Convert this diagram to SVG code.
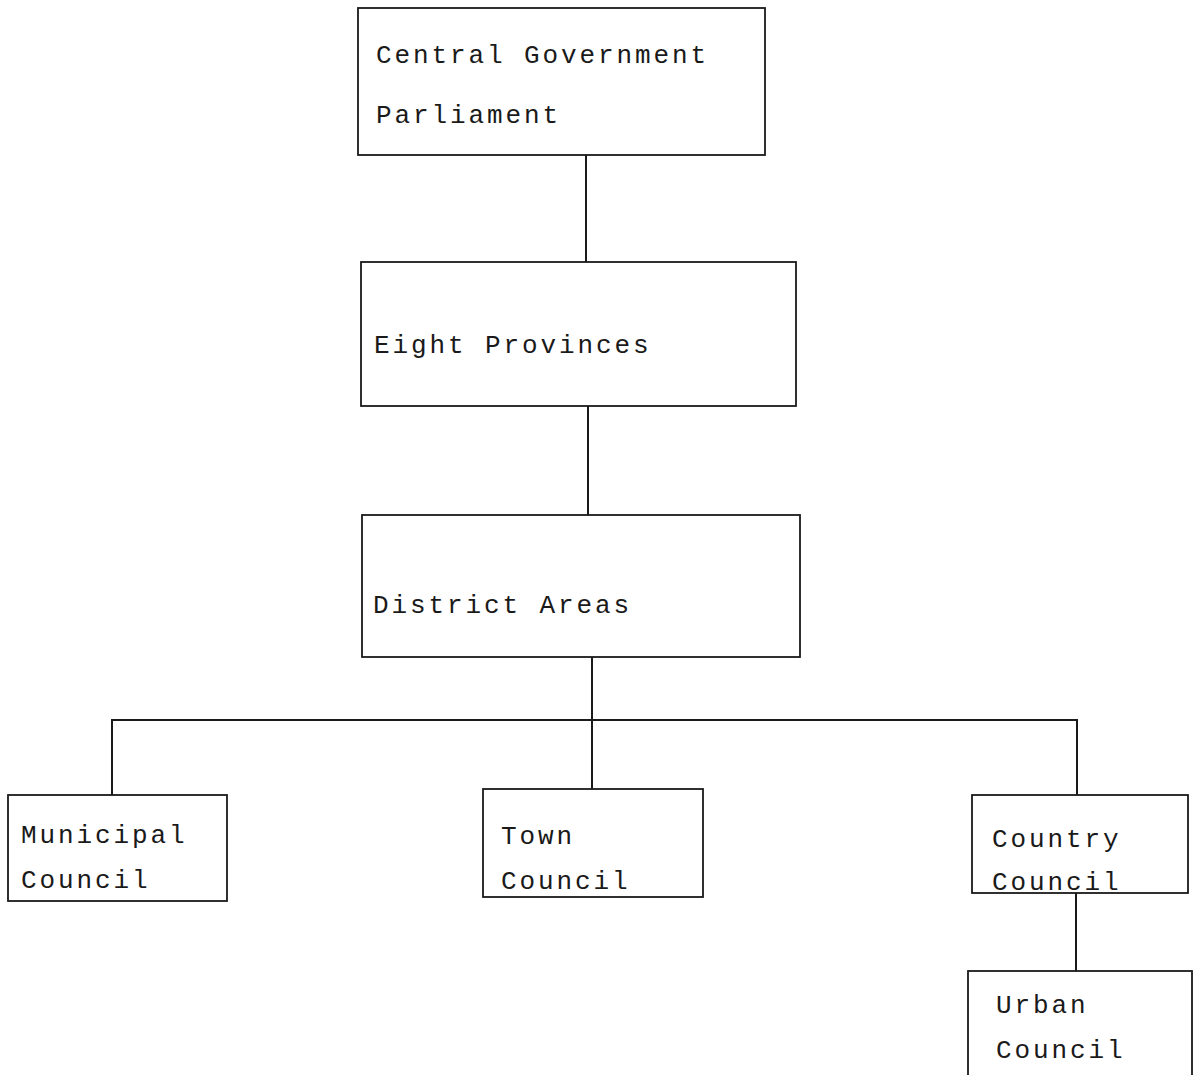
<svg xmlns="http://www.w3.org/2000/svg" width="1196" height="1075" viewBox="0 0 1196 1075">
<style>
.box{fill:none;stroke:#1a1a1a;stroke-width:1.8}
.ln{fill:none;stroke:#1a1a1a;stroke-width:2}
.t{font-family:"Liberation Mono","Courier New",monospace;font-size:26px;letter-spacing:2.9px;fill:#1a1a1a}
</style>
<rect width="1196" height="1075" fill="#fff"/>
<g id="connectors">
<line class="ln" x1="586" y1="155" x2="586" y2="262"/>
<line class="ln" x1="588" y1="406" x2="588" y2="515"/>
<line class="ln" x1="592" y1="657" x2="592" y2="789"/>
<polyline class="ln" points="112,795 112,720 1077,720 1077,795"/>
<line class="ln" x1="1076" y1="893" x2="1076" y2="971"/>
</g>
<g id="central">
<rect class="box" x="358" y="8" width="407" height="147"/>
<text class="t" x="376" y="63">Central Government</text>
<text class="t" x="376" y="123">Parliament</text>
</g>
<g id="provinces">
<rect class="box" x="361" y="262" width="435" height="144"/>
<text class="t" x="374" y="353">Eight Provinces</text>
</g>
<g id="district">
<rect class="box" x="362" y="515" width="438" height="142"/>
<text class="t" x="373" y="613">District Areas</text>
</g>
<g id="municipal">
<rect class="box" x="8" y="795" width="219" height="106"/>
<text class="t" x="21" y="843">Municipal</text>
<text class="t" x="21" y="888">Council</text>
</g>
<g id="town">
<rect class="box" x="483" y="789" width="220" height="108"/>
<text class="t" x="501" y="844">Town</text>
<text class="t" x="501" y="889">Council</text>
</g>
<g id="country">
<rect class="box" x="972" y="795" width="216" height="98"/>
<text class="t" x="992" y="847">Country</text>
<text class="t" x="992" y="890">Council</text>
</g>
<g id="urban">
<rect class="box" x="968" y="971" width="224" height="110"/>
<text class="t" x="996" y="1013">Urban</text>
<text class="t" x="996" y="1058">Council</text>
</g>
</svg>
